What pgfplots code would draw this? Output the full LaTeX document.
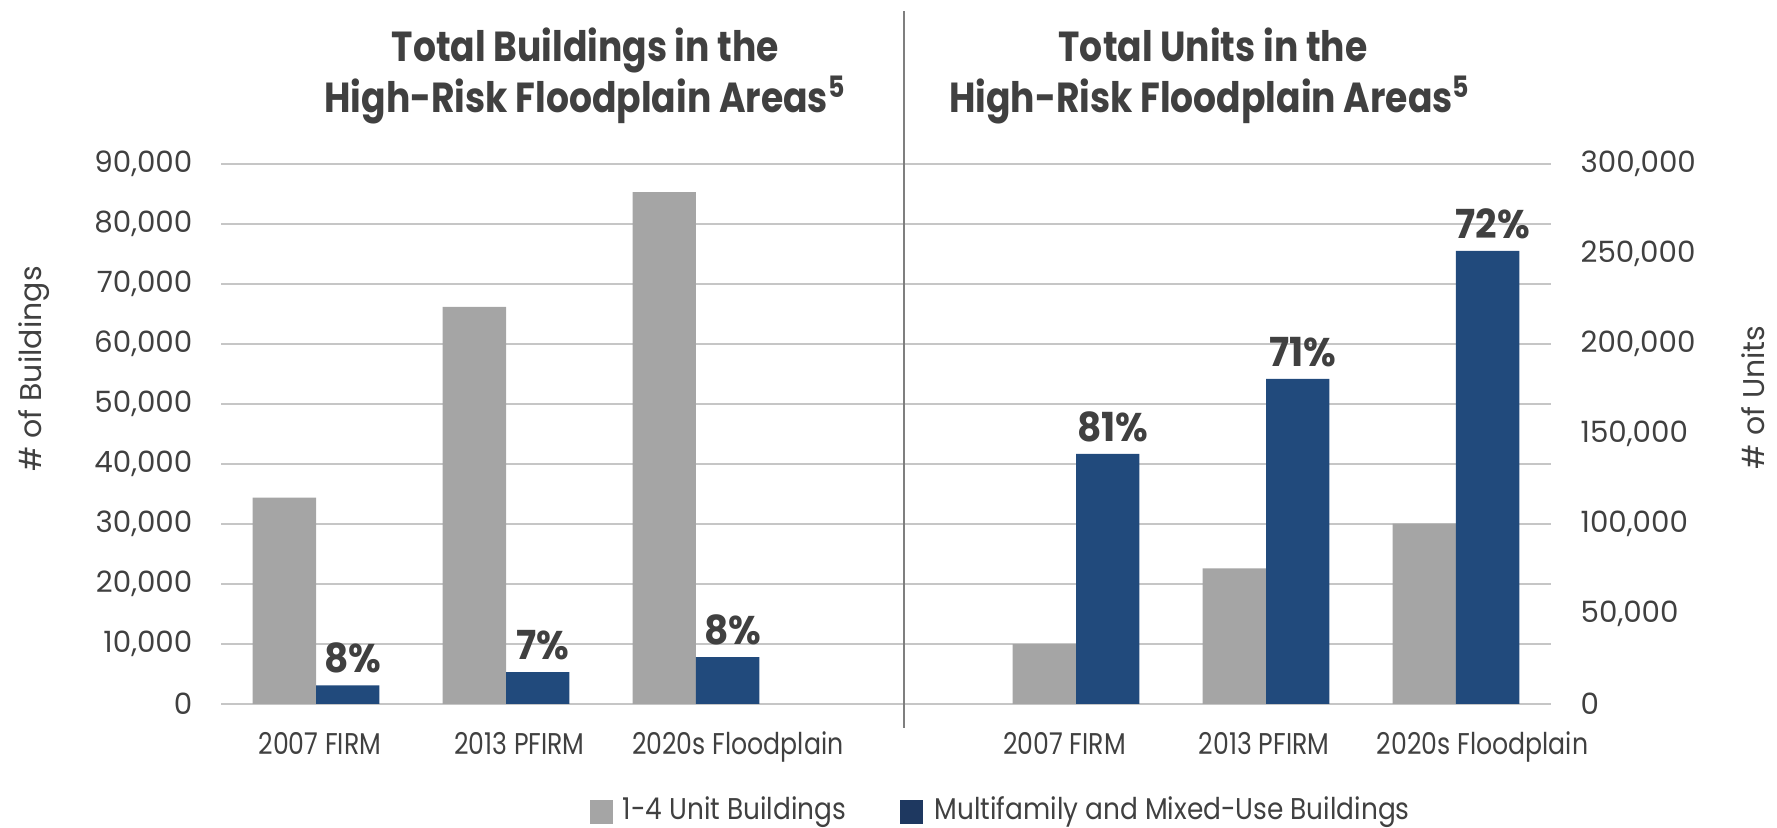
\documentclass[border=0pt]{standalone}
\usepackage{fontspec}
\setmainfont{Poppins}
\newfontfamily\condfont[FakeStretch=0.84]{Poppins}
\newfontfamily\legfont[FakeStretch=0.88]{Poppins}
\newfontfamily\titlefont[FakeStretch=0.86]{Poppins}
\newfontfamily\pctfont[FakeStretch=0.94]{Poppins}
\usepackage{pgfplots}
\pgfplotsset{compat=1.18}

\definecolor{barGray}{HTML}{A5A5A5}
\definecolor{barBlue}{HTML}{214A7C}
\definecolor{legBlue}{HTML}{1E3860}
\definecolor{txtGray}{HTML}{404040}
\definecolor{gridGray}{HTML}{C6C6C6}
\definecolor{divGray}{HTML}{7F7F7F}

% 1 px of the 1777x828 reference = 0.3pt
\pgfplotsset{
  twin/.style={
    at={(66.3pt,37.2pt)}, anchor=south west,
    width=399pt, height=162pt, scale only axis,
    ybar=0pt, bar width=19pt,
    xmin=-0.5, xmax=6.5, ymin=0,
    axis line style={draw=none}, major tick length=0pt,
    scaled y ticks=false,
    /pgf/number format/fixed,
    /pgf/number format/precision=0,
    /pgf/number format/1000 sep={,},
    /pgf/number format/assume math mode=true,
  },
  pct/.style={
    nodes near coords, point meta=explicit symbolic,
    every node near coord/.append style={font=\pctfont\bfseries\fontsize{12}{14}\selectfont,
      text=txtGray, inner sep=0pt, anchor=south, yshift=3.4pt, xshift=1.5pt},
  },
}

\begin{document}
\begin{tikzpicture}
\path[use as bounding box] (0,0) rectangle (533.1pt,248.4pt);

% buildings, left axis
\begin{axis}[twin,
  ymax=90000, ytick={0,10000,...,90000},
  ymajorgrids, grid style={draw=gridGray, line width=0.65pt},
  xtick={0.02,1.07,2.22,3.94,4.99,6.14},
  xticklabels={2007 FIRM,2013 PFIRM,2020s Floodplain,2007 FIRM,2013 PFIRM,2020s Floodplain},
  xticklabel style={font=\condfont\fontsize{9}{10}\selectfont, text=txtGray,
    anchor=base, inner sep=0pt, yshift=-15.3pt},
  yticklabel style={font=\fontsize{8.8}{10}\selectfont, text=txtGray,
    anchor=east, inner sep=0pt, xshift=-8.4pt},
]
\addplot[fill=barGray, draw=none] coordinates {(0,34400) (1,66200) (2,85300)};
\addplot[fill=barBlue, draw=none, pct] coordinates {(0,3100) [8\%] (1,5300) [7\%] (2,7800) [8\%]};
\end{axis}

% units, right axis
\begin{axis}[twin,
  ymax=300000, ytick={0,50000,...,300000},
  xtick=\empty, yticklabel pos=right,
  yticklabel style={font=\fontsize{8.8}{10}\selectfont, text=txtGray,
    anchor=west, inner sep=0pt, xshift=8.7pt},
]
\addplot[fill=barGray, draw=none] coordinates {(4,33200) (5,75400) (6,100200)};
\addplot[fill=barBlue, draw=none, pct] coordinates {(4,138900) [81\%] (5,180600) [71\%] (6,251700) [72\%]};
\end{axis}

\draw[divGray, line width=0.6pt] (271.2pt,30pt) -- (271.2pt,245.1pt);

\begin{scope}[every node/.style={text=txtGray, inner sep=0pt, anchor=base,
    font=\titlefont\bfseries\fontsize{12.6}{14}\selectfont}]
\node at (175.6pt,229.9pt) {Total Buildings in the};
\node at (175.6pt,214.7pt) {High-Risk Floodplain Areas\textsuperscript{5}};
\node at (363.9pt,229.9pt) {Total Units in the};
\node at (363.0pt,214.7pt) {High-Risk Floodplain Areas\textsuperscript{5}};
\end{scope}

\node[rotate=90, anchor=base, inner sep=0pt, text=txtGray, font=\fontsize{9}{10}\selectfont]
  at (12.5pt,137.7pt) {\# of Buildings};
\node[rotate=90, anchor=base, inner sep=0pt, text=txtGray, font=\fontsize{9}{10}\selectfont]
  at (529.2pt,129.2pt) {\# of Units};

% legend
\fill[barGray] (177pt,1.2pt) rectangle (183.9pt,8.4pt);
\node[anchor=base west, inner sep=0pt, text=txtGray, font=\legfont\fontsize{9}{10}\selectfont]
  at (186.6pt,2.4pt) {1-4 Unit Buildings};
\fill[legBlue] (270pt,1.2pt) rectangle (277pt,8.4pt);
\node[anchor=base west, inner sep=0pt, text=txtGray, font=\legfont\fontsize{9}{10}\selectfont]
  at (280.2pt,2.4pt) {Multifamily and Mixed-Use Buildings};
\end{tikzpicture}
\end{document}
